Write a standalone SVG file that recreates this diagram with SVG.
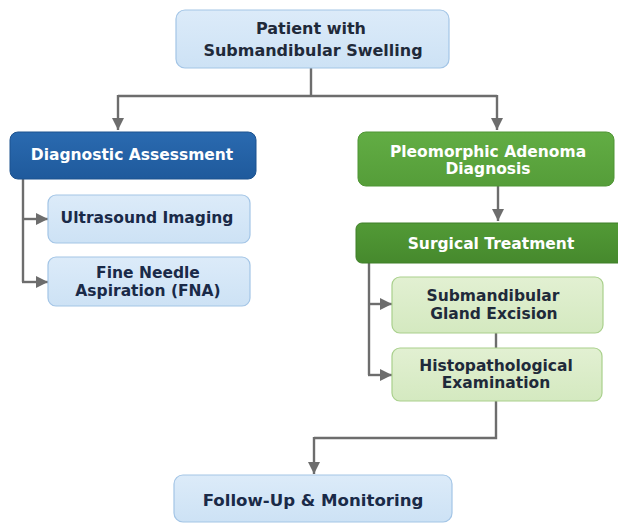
<svg xmlns="http://www.w3.org/2000/svg" width="618" height="523" viewBox="0 0 618 523">
<defs>
<linearGradient id="gBlue" x1="0" y1="0" x2="0" y2="1"><stop offset="0" stop-color="#2a6ab0"/><stop offset="1" stop-color="#1f5a9c"/></linearGradient>
<linearGradient id="gGreen" x1="0" y1="0" x2="0" y2="1"><stop offset="0" stop-color="#62ad44"/><stop offset="1" stop-color="#559d39"/></linearGradient>
<linearGradient id="gGreenD" x1="0" y1="0" x2="0" y2="1"><stop offset="0" stop-color="#529a36"/><stop offset="1" stop-color="#46892d"/></linearGradient>
<linearGradient id="gLB" x1="0" y1="0" x2="0" y2="1"><stop offset="0" stop-color="#dcebf9"/><stop offset="1" stop-color="#cde2f5"/></linearGradient>
<linearGradient id="gLG" x1="0" y1="0" x2="0" y2="1"><stop offset="0" stop-color="#e2f0d2"/><stop offset="1" stop-color="#d4e9c0"/></linearGradient>
<marker id="arr" viewBox="0 0 10 10" refX="10" refY="5" markerWidth="5.2" markerHeight="5.2" orient="auto" markerUnits="strokeWidth">
<path d="M0,0 L10,5 L0,10 z" fill="#6d6d6d"/>
</marker>
</defs>
<style>
.lb{fill:url(#gLB);stroke:#a3c5e6;stroke-width:1.2}
.lg{fill:url(#gLG);stroke:#a9d08c;stroke-width:1.2}
.db{fill:url(#gBlue);stroke:#1c528f;stroke-width:1}
.gm{fill:url(#gGreen);stroke:#4f9534;stroke-width:1}
.gd{fill:url(#gGreenD);stroke:#3f7f28;stroke-width:1}
text{font-family:"DejaVu Sans",sans-serif;font-weight:bold;font-size:15.5px;text-anchor:middle;dominant-baseline:central}
.dk{fill:#1f2a3a}
.nv{fill:#1a2a48}
.wh{fill:#ffffff}
.c{fill:none;stroke:#6d6d6d;stroke-width:2.4}
</style>
<g id="connectors">
<path class="c" d="M311,68 V96 M118,96 H497"/>
<path class="c" d="M118,95 V130" marker-end="url(#arr)"/>
<path class="c" d="M497,95 V130" marker-end="url(#arr)"/>
<path class="c" d="M23,179 V282"/>
<path class="c" d="M22,219 H48" marker-end="url(#arr)"/>
<path class="c" d="M22,282 H48" marker-end="url(#arr)"/>
<path class="c" d="M498,186 V221" marker-end="url(#arr)"/>
<path class="c" d="M369,263 V375"/>
<path class="c" d="M368,304 H392" marker-end="url(#arr)"/>
<path class="c" d="M368,375 H392" marker-end="url(#arr)"/>
<path class="c" d="M496,333 V348"/>
<path class="c" d="M496,401 V438 H314"/>
<path class="c" d="M314,437 V474" marker-end="url(#arr)"/>
</g>
<g id="patient">
<rect class="lb" x="176" y="10" width="273" height="58" rx="9"/>
<text class="dk" x="311" y="28" style="font-size:16px">Patient with</text>
<text class="dk" x="313" y="50" style="font-size:16px">Submandibular Swelling</text>
</g>
<g id="diagnostic">
<rect class="db" x="10" y="132" width="246" height="47" rx="8"/>
<text class="wh" x="132" y="155">Diagnostic Assessment</text>
</g>
<g id="ultrasound">
<rect class="lb" x="48" y="195" width="202" height="48" rx="8"/>
<text class="nv" x="147" y="218">Ultrasound Imaging</text>
</g>
<g id="fna">
<rect class="lb" x="48" y="257" width="202" height="49" rx="8"/>
<text class="nv" x="148" y="273">Fine Needle</text>
<text class="nv" x="148" y="291">Aspiration (FNA)</text>
</g>
<g id="pleomorphic">
<rect class="gm" x="358" y="132" width="256" height="54" rx="8"/>
<text class="wh" x="488" y="152">Pleomorphic Adenoma</text>
<text class="wh" x="488" y="169">Diagnosis</text>
</g>
<g id="surgical">
<rect class="gd" x="356" y="223" width="268" height="40" rx="6"/>
<text class="wh" x="491" y="244">Surgical Treatment</text>
</g>
<g id="excision">
<rect class="lg" x="392" y="277" width="211" height="56" rx="8"/>
<text class="dk" x="493" y="296">Submandibular</text>
<text class="dk" x="494" y="314">Gland Excision</text>
</g>
<g id="histo">
<rect class="lg" x="392" y="348" width="210" height="53" rx="8"/>
<text class="dk" x="496" y="366">Histopathological</text>
<text class="dk" x="496" y="383">Examination</text>
</g>
<g id="followup">
<rect class="lb" x="174" y="475" width="278" height="47" rx="9"/>
<text class="nv" x="313" y="500" style="font-size:16.6px">Follow-Up &amp; Monitoring</text>
</g>
</svg>
